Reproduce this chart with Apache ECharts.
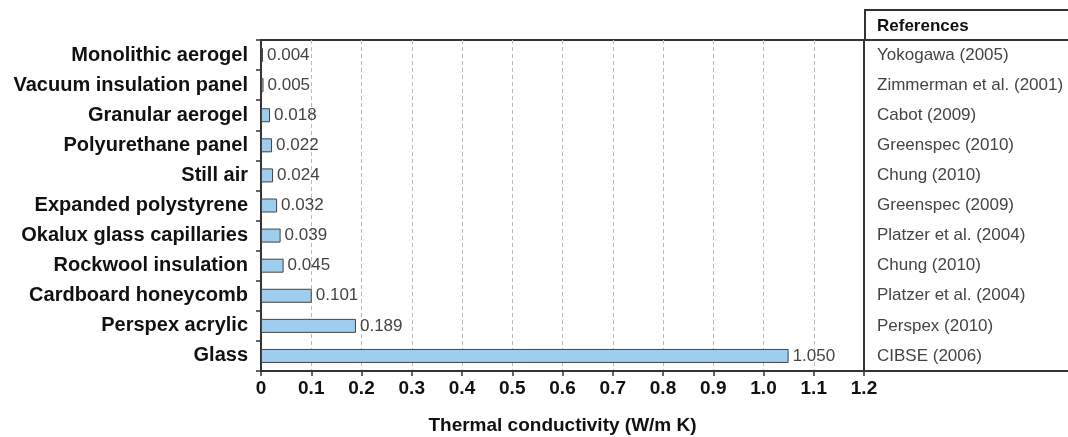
<!DOCTYPE html>
<html><head><meta charset="utf-8">
<script src="https://cdn.jsdelivr.net/npm/echarts@6/dist/echarts.min.js"></script>
<style>html,body{margin:0;padding:0;background:#fff}#c{width:1068px;height:437px}</style>
</head><body><div id="c"></div>
<script>
const categories = ['Monolithic aerogel','Vacuum insulation panel','Granular aerogel','Polyurethane panel','Still air','Expanded polystyrene','Okalux glass capillaries','Rockwool insulation','Cardboard honeycomb','Perspex acrylic','Glass'];
const conductivity = [0.004,0.005,0.018,0.022,0.024,0.032,0.039,0.045,0.101,0.189,1.050];
const references = ['Yokogawa (2005)','Zimmerman et al. (2001)','Cabot (2009)','Greenspec (2010)','Chung (2010)','Greenspec (2009)','Platzer et al. (2004)','Chung (2010)','Platzer et al. (2004)','Perspex (2010)','CIBSE (2006)'];
const xTicks = ['0','0.1','0.2','0.3','0.4','0.5','0.6','0.7','0.8','0.9','1.0','1.1','1.2'];
const xTitle = 'Thermal conductivity (W/m K)';
const refTitle = 'References';

const FONT = 'Liberation Sans, Arial, Helvetica, sans-serif';
const chart = echarts.init(document.getElementById('c'));
const L = 261, R = 864, T = 40, B = 371;
chart.setOption({
  animation: false,
  grid: {left: L, right: 1068 - R, top: T, bottom: 437 - B, containLabel: false, outerBoundsMode: 'none'},
  xAxis: {
    type: 'value', min: 0, max: 1.2, interval: 0.1,
    name: xTitle, nameLocation: 'middle', nameGap: 45,
    nameTextStyle: {fontFamily: FONT, fontWeight: 'bold', fontSize: 19, color: '#111'},
    axisLine: {show: true, lineStyle: {color: '#333', width: 2}},
    axisTick: {show: true, length: 5, lineStyle: {color: '#333', width: 1.5}},
    axisLabel: {fontFamily: FONT, fontWeight: 'bold', fontSize: 19, color: '#111', margin: 8,
      formatter: (v) => xTicks[Math.round(v * 10)]},
    splitLine: {show: true, lineStyle: {type: [4, 3], color: '#bbb', width: 1}}
  },
  yAxis: [{
    type: 'category', data: categories, inverse: true,
    axisLine: {show: true, lineStyle: {color: '#333', width: 2}},
    axisTick: {show: true, length: 5, lineStyle: {color: '#333', width: 1.5}},
    axisLabel: {fontFamily: FONT, fontWeight: 'bold', fontSize: 20, color: '#111', margin: 13}
  }, {
    type: 'category', data: references, inverse: true, position: 'right',
    axisLine: {show: true, onZero: false, lineStyle: {color: '#333', width: 2}},
    axisTick: {show: false},
    axisLabel: {fontFamily: FONT, fontSize: 17, color: '#444', margin: 13, align: 'left'}
  }],
  series: [{
    type: 'bar', data: conductivity, yAxisIndex: 0, barWidth: 14,
    itemStyle: {color: '#9dcdef', borderColor: '#444', borderWidth: 1},
    label: {show: true, position: 'right', distance: 4, fontFamily: FONT, fontSize: 17, color: '#444',
      formatter: (p) => p.value.toFixed(3)}
  }],
  graphic: [
    {type: 'line', shape: {x1: L, y1: T, x2: 1068, y2: T}, style: {stroke: '#333', lineWidth: 2}},
    {type: 'line', shape: {x1: R, y1: B, x2: 1068, y2: B}, style: {stroke: '#333', lineWidth: 2}},
    {type: 'line', shape: {x1: R + 1, y1: 10, x2: R + 1, y2: T}, style: {stroke: '#333', lineWidth: 2}},
    {type: 'line', shape: {x1: R, y1: 10, x2: 1068, y2: 10}, style: {stroke: '#333', lineWidth: 2}},
    {type: 'text', x: 877, y: 26, style: {text: refTitle, fontFamily: FONT, fontWeight: 'bold', fontSize: 17, fill: '#111', verticalAlign: 'middle'}}
  ]
});
</script></body></html>
